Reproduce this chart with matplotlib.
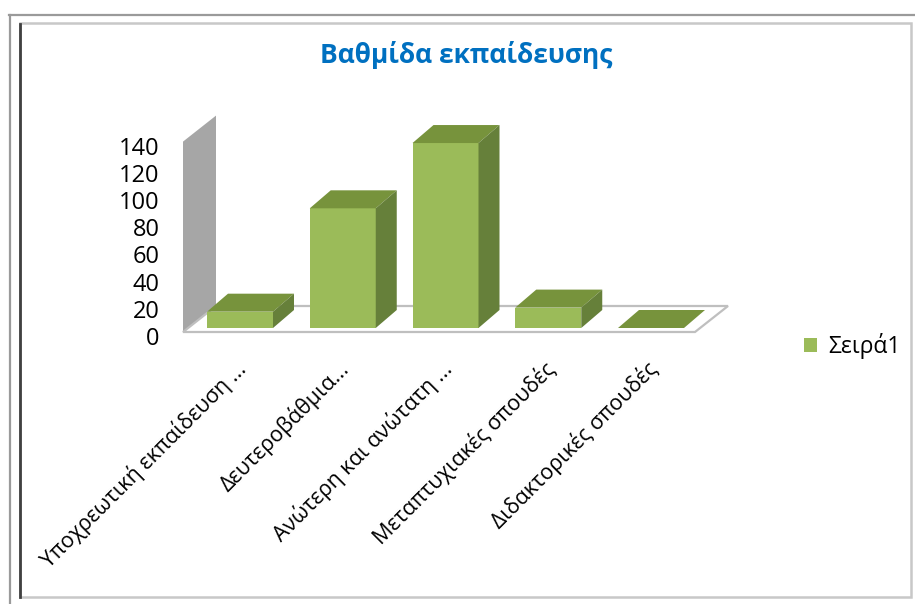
import numpy as np
import matplotlib
matplotlib.use('Agg')
import matplotlib.pyplot as plt
import matplotlib.transforms as mtransforms
from matplotlib.patches import Polygon, Rectangle
from matplotlib.lines import Line2D

# data
categories = ['Υποχρεωτική εκπαίδευση ...', 'Δευτεροβάθμια...', 'Ανώτερη και ανώτατη ...',
              'Μεταπτυχιακές σπουδές', 'Διδακτορικές σπουδές']
values = [12, 88, 136, 15, 0]
series_name = 'Σειρά1'
yticks = [0, 20, 40, 60, 80, 100, 120, 140]
title = 'Βαθμίδα εκπαίδευσης'

plt.rcParams['font.family'] = ['Open Sans', 'DejaVu Sans']

FRONT = '#9bbb59'
TOP = '#77933c'
SIDE = '#66803a'
WALL = '#a6a6a6'
EDGE = '#bfbfbf'

W, H = 915, 604
fig = plt.figure(figsize=(W / 100, H / 100), dpi=100)

# pixel helpers for figure-level decoration
def fx(px):
    return px / W

def fy(py):
    return 1 - py / H

# axes box (pixels) and scale so the oblique 3d look lines up
L, R, B, T = 170, 745, 345, 100
ax = fig.add_axes([fx(L), fy(B), (R - L) / W, (B - T) / H])
px_x, px_y = 102.75, 1.36      # pixels per category / per value unit
x0_px, y0_px = 240, 328
ax.set_xlim((L - x0_px) / px_x, (R - x0_px) / px_x)
ax.set_ylim(-(B - y0_px) / px_y, (y0_px - T) / px_y)

xs = np.arange(len(categories))
bw = 66 / px_x
# depth offsets (oblique projection) in data units
bdx, bdy = 21 / px_x, 18 / px_y
fdx, fdy = 33 / px_x, 26 / px_y
floor_y = -4 / px_y
fl = xs[0] - 57 / px_x
fr = xs[-1] + 44 / px_x
wall_top = yticks[-1] + floor_y

# back wall (left side)
ax.add_patch(Polygon([(fl, floor_y), (fl + fdx, floor_y + fdy), (fl + fdx, wall_top + fdy), (fl, wall_top)],
                     closed=True, facecolor=WALL, edgecolor='none', zorder=1))
# floor
ax.add_patch(Polygon([(fl, floor_y), (fr, floor_y), (fr + fdx, floor_y + fdy), (fl + fdx, floor_y + fdy)],
                     closed=True, facecolor='white', edgecolor=EDGE, lw=1.6, zorder=1.5))

# bars: front faces from ax.bar, top and side faces from the same values
ax.bar(xs, values, width=bw, color=FRONT, zorder=3, label=series_name)
for x, v in zip(xs, values):
    xl, xr = x - bw / 2, x + bw / 2
    ax.add_patch(Polygon([(xl, v), (xr, v), (xr + bdx, v + bdy), (xl + bdx, v + bdy)],
                         closed=True, facecolor=TOP, edgecolor='none', zorder=3))
    if v > 0:
        ax.add_patch(Polygon([(xr, 0), (xr + bdx, bdy), (xr + bdx, v + bdy), (xr, v)],
                             closed=True, facecolor=SIDE, edgecolor='none', zorder=3))

for s in ax.spines.values():
    s.set_visible(False)
ax.set_facecolor('none')

ax.set_yticks(yticks)
ax.tick_params(axis='y', length=0, pad=7.5, labelsize=17)
shift = mtransforms.ScaledTranslation(0, -8 / 100, fig.dpi_scale_trans)
for lab in ax.get_yticklabels():
    lab.set_transform(lab.get_transform() + shift)

ax.set_xticks(xs)
ax.set_xticklabels(categories, rotation=45, ha='right', va='center', rotation_mode='anchor',
                   fontsize=15.5)
ax.tick_params(axis='x', length=0, pad=15)
xshift = mtransforms.ScaledTranslation(3 / 100, 0, fig.dpi_scale_trans)
for lab in ax.get_xticklabels():
    lab.set_transform(lab.get_transform() + xshift)

fig.text(fx(466), fy(55), title, ha='center', va='center', fontsize=19,
         fontweight='bold', color='#0070c0')

fig.legend(loc='center left', bbox_to_anchor=(fx(793), fy(346)), frameon=False,
           fontsize=16.5, handlelength=0.55, handleheight=0.55, handletextpad=0.5, borderpad=0)

# chart frame
fig.add_artist(Line2D([fx(9), fx(915)], [fy(15), fy(15)], color='#9a9a9a', lw=1.6))
fig.add_artist(Line2D([fx(10), fx(10)], [fy(15), fy(604)], color='#9a9a9a', lw=1.6))
fig.add_artist(Rectangle((fx(20), fy(597)), fx(911) - fx(20), fy(23) - fy(597), fill=False,
                         edgecolor='#c8c8c8', lw=1.8, transform=fig.transFigure))
fig.add_artist(Line2D([fx(20), fx(20)], [fy(24), fy(597)], color='#404040', lw=2))

fig.savefig('out.png', dpi=100)
